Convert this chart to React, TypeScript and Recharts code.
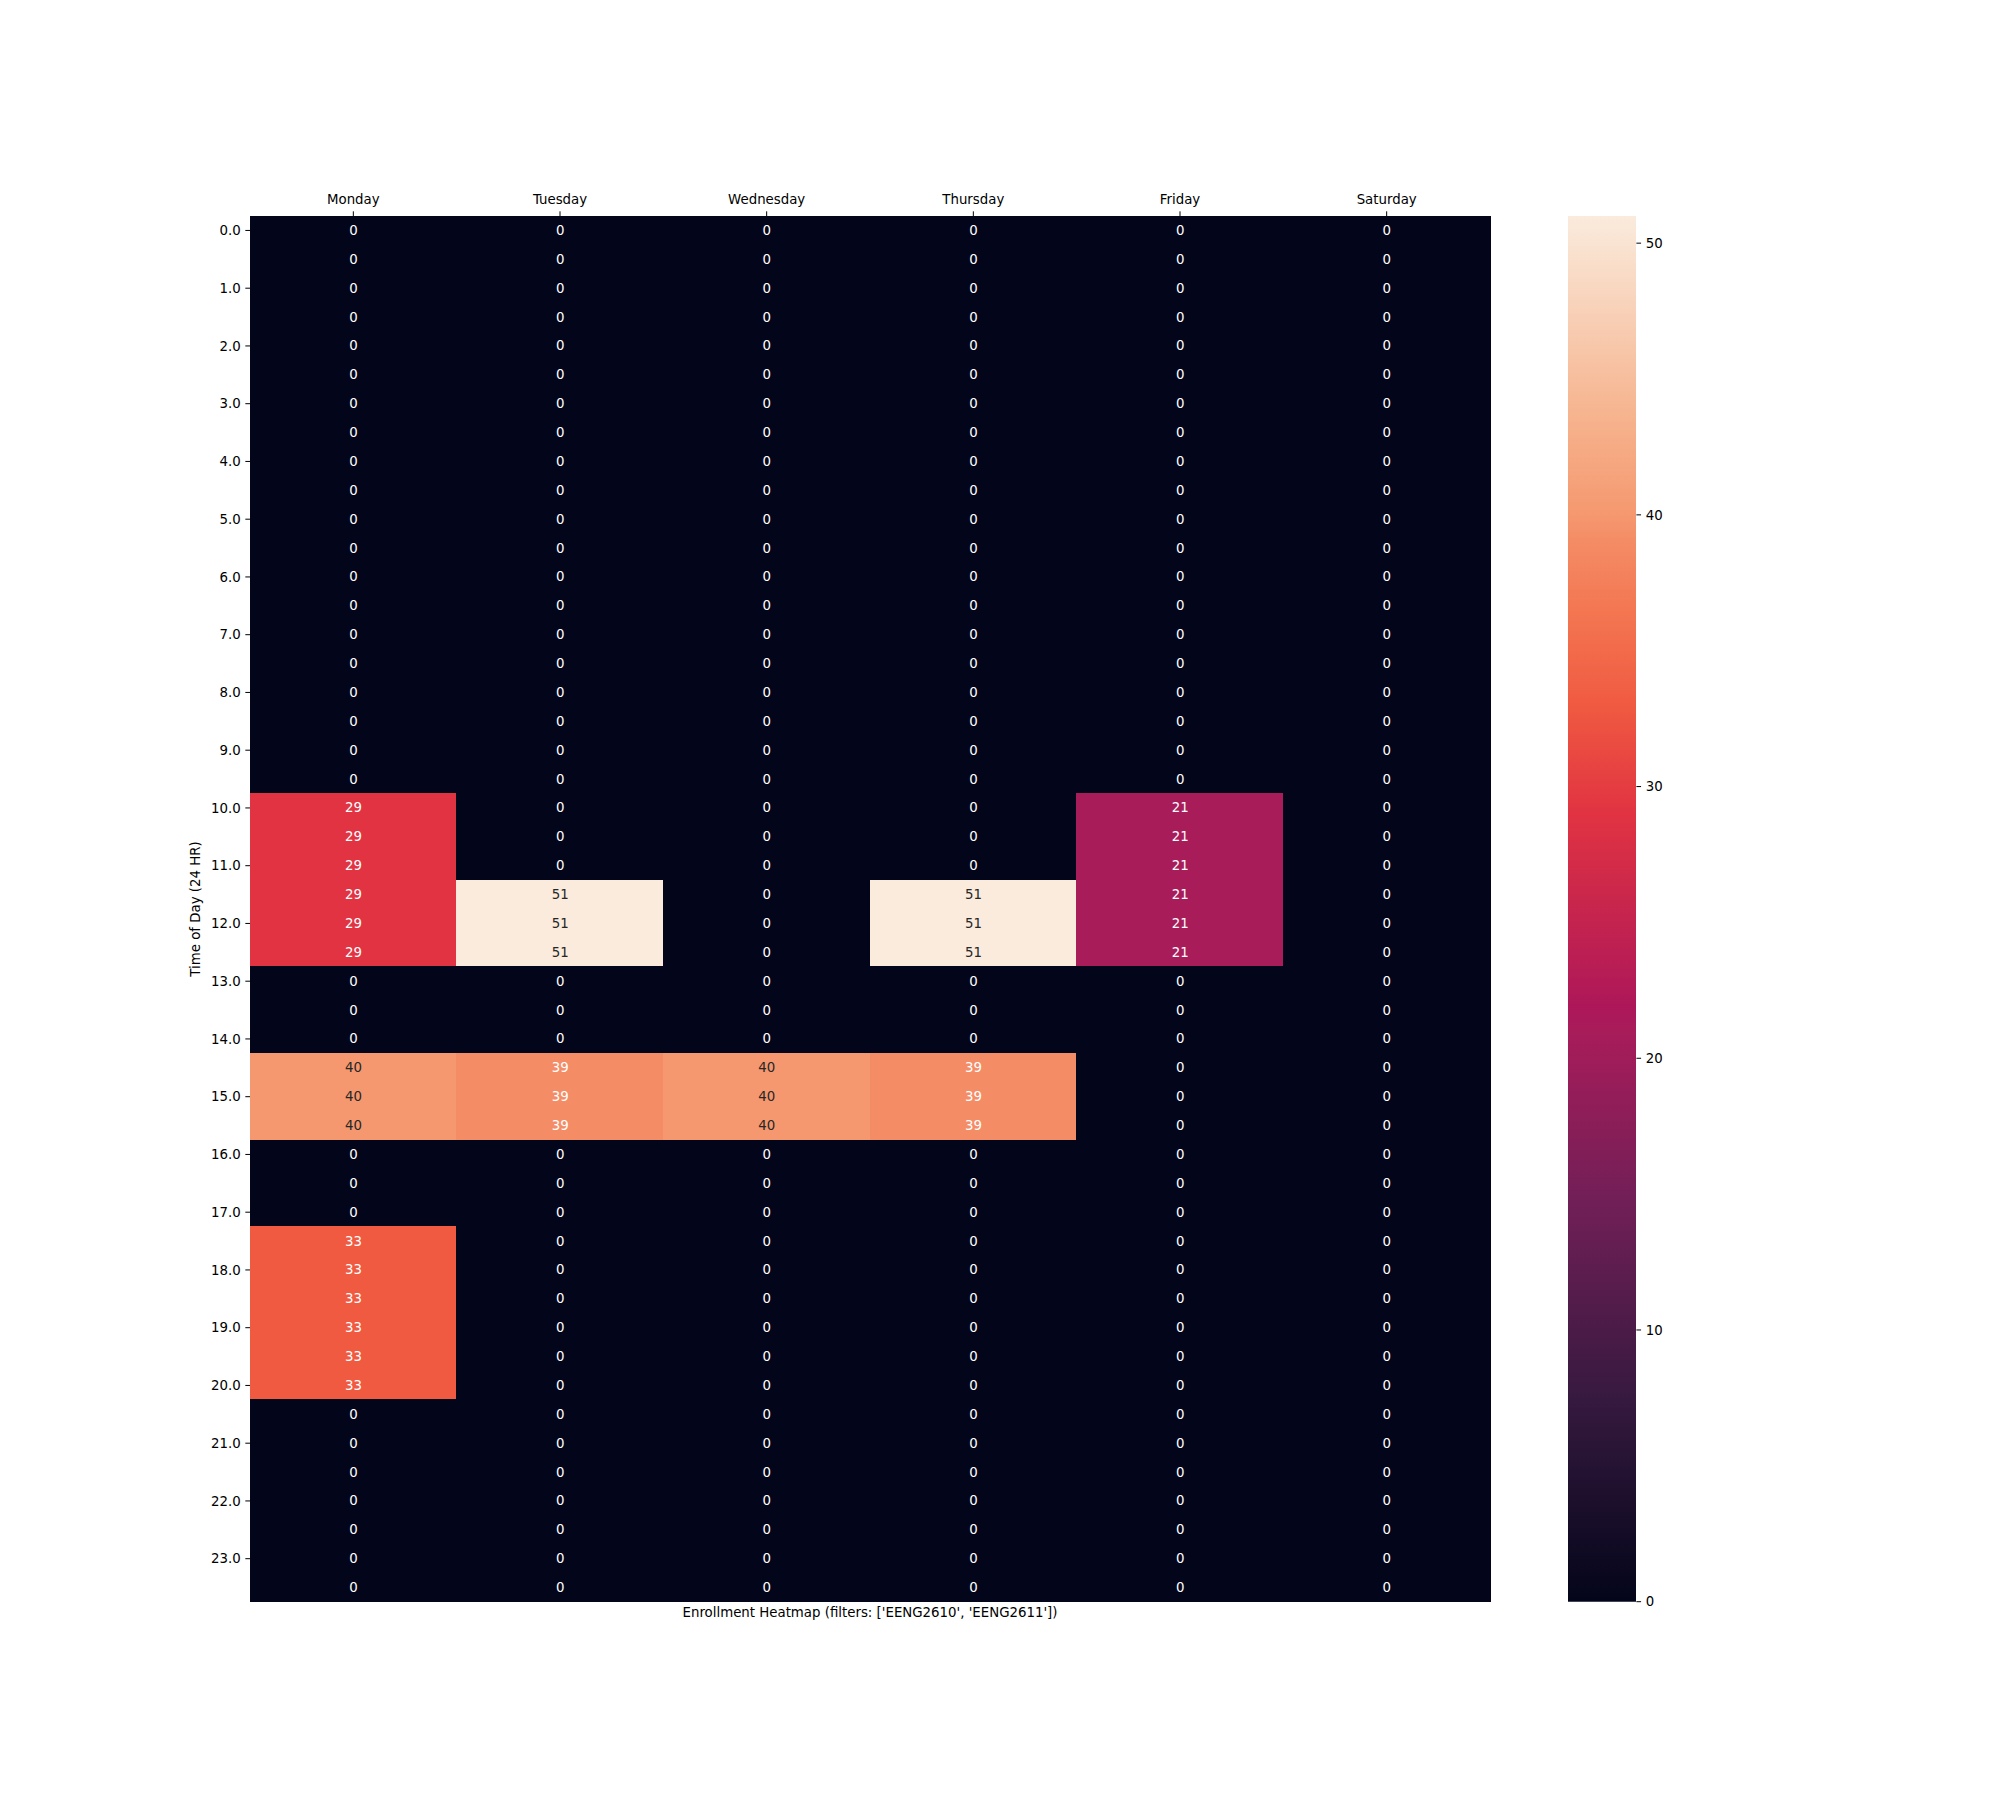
import React from 'react';
import { BarChart, Bar, XAxis, YAxis, Cell, LabelList, Label } from 'recharts';

const days = ['Monday', 'Tuesday', 'Wednesday', 'Thursday', 'Friday', 'Saturday'];

const timeLabels = ['0.0', '1.0', '2.0', '3.0', '4.0', '5.0', '6.0', '7.0', '8.0', '9.0', '10.0', '11.0',
  '12.0', '13.0', '14.0', '15.0', '16.0', '17.0', '18.0', '19.0', '20.0', '21.0', '22.0', '23.0'];

const mondayValues = [0, 0, 0, 0, 0, 0, 0, 0, 0, 0, 0, 0, 0, 0, 0, 0, 0, 0, 0, 0,
  29, 29, 29, 29, 29, 29, 0, 0, 0, 40, 40, 40, 0, 0, 0, 33, 33, 33, 33, 33, 33,
  0, 0, 0, 0, 0, 0, 0];
const tuesdayValues = [0, 0, 0, 0, 0, 0, 0, 0, 0, 0, 0, 0, 0, 0, 0, 0, 0, 0, 0, 0,
  0, 0, 0, 51, 51, 51, 0, 0, 0, 39, 39, 39, 0, 0, 0, 0, 0, 0, 0, 0, 0,
  0, 0, 0, 0, 0, 0, 0];
const wednesdayValues = [0, 0, 0, 0, 0, 0, 0, 0, 0, 0, 0, 0, 0, 0, 0, 0, 0, 0, 0, 0,
  0, 0, 0, 0, 0, 0, 0, 0, 0, 40, 40, 40, 0, 0, 0, 0, 0, 0, 0, 0, 0,
  0, 0, 0, 0, 0, 0, 0];
const thursdayValues = [0, 0, 0, 0, 0, 0, 0, 0, 0, 0, 0, 0, 0, 0, 0, 0, 0, 0, 0, 0,
  0, 0, 0, 51, 51, 51, 0, 0, 0, 39, 39, 39, 0, 0, 0, 0, 0, 0, 0, 0, 0,
  0, 0, 0, 0, 0, 0, 0];
const fridayValues = [0, 0, 0, 0, 0, 0, 0, 0, 0, 0, 0, 0, 0, 0, 0, 0, 0, 0, 0, 0,
  21, 21, 21, 21, 21, 21, 0, 0, 0, 0, 0, 0, 0, 0, 0, 0, 0, 0, 0, 0, 0,
  0, 0, 0, 0, 0, 0, 0];
const saturdayValues = [0, 0, 0, 0, 0, 0, 0, 0, 0, 0, 0, 0, 0, 0, 0, 0, 0, 0, 0, 0,
  0, 0, 0, 0, 0, 0, 0, 0, 0, 0, 0, 0, 0, 0, 0, 0, 0, 0, 0, 0, 0,
  0, 0, 0, 0, 0, 0, 0];

const dayValues = [mondayValues, tuesdayValues, wednesdayValues, thursdayValues, fridayValues, saturdayValues];

const colorbarTicks = [0, 10, 20, 30, 40, 50];
const VMAX = 51;

const rocketStops: [number, string][] = [
  [0, '#03051A'],
  [0.143, '#35193E'],
  [0.286, '#701F57'],
  [0.412, '#A81C5A'],
  [0.429, '#AD1759'],
  [0.569, '#E13342'],
  [0.647, '#F05A41'],
  [0.714, '#F37651'],
  [0.765, '#F48C66'],
  [0.784, '#F5986F'],
  [0.857, '#F6B48F'],
  [1, '#FAEBDD'],
];

function hexToRgb(h: string) {
  const n = parseInt(h.slice(1), 16);
  return [(n >> 16) & 255, (n >> 8) & 255, n & 255];
}

function rocketRgb(v: number): number[] {
  const t = Math.max(0, Math.min(1, v / VMAX));
  for (let i = 0; i < rocketStops.length - 1; i++) {
    const [t0, c0] = rocketStops[i];
    const [t1, c1] = rocketStops[i + 1];
    if (t >= t0 && t <= t1) {
      const f = (t - t0) / (t1 - t0);
      const a = hexToRgb(c0);
      const b = hexToRgb(c1);
      return a.map((x, k) => Math.round(x + (b[k] - x) * f));
    }
  }
  return hexToRgb(rocketStops[rocketStops.length - 1][1]);
}

function rocket(v: number) {
  const r = rocketRgb(v);
  return `rgb(${r[0]},${r[1]},${r[2]})`;
}

function textColor(v: number) {
  const rgb = rocketRgb(v);
  const lin = rgb.map((c) => {
    const s = c / 255;
    return s <= 0.03928 ? s / 12.92 : Math.pow((s + 0.055) / 1.055, 2.4);
  });
  const lum = 0.2126 * lin[0] + 0.7152 * lin[1] + 0.0722 * lin[2];
  return lum > 0.408 ? '#262626' : '#FFFFFF';
}

const rowCount = mondayValues.length;
const rowIdx = mondayValues.map((_, i) => i);

const tableData = days.map((day, j) => {
  const o: Record<string, any> = { day };
  rowIdx.forEach((i) => {
    o[`r${i}`] = 1;
    o[`v${i}`] = dayValues[j][i];
  });
  return o;
});

const yTicks = timeLabels.map((_, i) => i * 2 + 0.5);

const FONT = 'DejaVu Sans';
const FS = 13.33;
const TICK = 4.67;

const colorbarData = [{ name: 'cb', v: VMAX }];

export default function App() {
  return (
    <div style={{ position: 'absolute', left: 0, top: 0, width: 2000, height: 1800, background: '#fff', fontFamily: FONT }}>
      <div style={{ position: 'absolute', left: 0, top: 0 }}>
        <BarChart
          width={2000}
          height={1800}
          data={tableData}
          margin={{ top: 186, right: 510, bottom: 198, left: 150 }}
          barCategoryGap={0}
          barGap={0}
        >
          <XAxis
            dataKey="day"
            type="category"
            orientation="top"
            height={30}
            axisLine={false}
            tickLine={{ stroke: '#000', strokeWidth: 1 }}
            tickSize={TICK}
            tickMargin={7.5}
            interval={0}
            tick={{ fill: '#000', fontSize: FS, fontFamily: FONT }}
          />
          <YAxis
            type="number"
            domain={[0, rowCount]}
            reversed
            ticks={yTicks}
            interval={0}
            width={100}
            axisLine={false}
            tickLine={{ stroke: '#000', strokeWidth: 1 }}
            tickSize={TICK}
            tickMargin={TICK}
            tickFormatter={(v: number) => timeLabels[Math.round((v - 0.5) / 2)]}
            tick={{ fill: '#000', fontSize: FS, fontFamily: FONT }}
            allowDataOverflow
          >
            <Label
              content={(p: any) => {
                const vb = p.viewBox || {};
                const cx = (vb.x ?? 150) + 45;
                const cy = (vb.y ?? 216) + (vb.height ?? 1386) / 2;
                return (
                  <text
                    x={cx}
                    y={cy}
                    transform={`rotate(-90 ${cx} ${cy})`}
                    textAnchor="middle"
                    dominantBaseline="central"
                    fontSize={FS}
                    fontFamily={FONT}
                    fill="#000"
                  >
                    Time of Day (24 HR)
                  </text>
                );
              }}
            />
          </YAxis>
          {rowIdx.map((i) => (
            <Bar key={i} dataKey={`r${i}`} stackId="heat" isAnimationActive={false}>
              {days.map((d, j) => (
                <Cell
                  key={d}
                  fill={rocket(dayValues[j][i])}
                  stroke={rocket(dayValues[j][i])}
                  strokeWidth={1}
                  shapeRendering="crispEdges"
                />
              ))}
              <LabelList
                dataKey={`v${i}`}
                content={(p: any) => {
                  const val = Number(p.value);
                  return (
                    <text
                      x={Number(p.x) + Number(p.width) / 2}
                      y={Number(p.y) + Number(p.height) / 2}
                      textAnchor="middle"
                      dominantBaseline="central"
                      fontSize={FS}
                      fontFamily={FONT}
                      fill={textColor(val)}
                    >
                      {val}
                    </text>
                  );
                }}
              />
            </Bar>
          ))}
        </BarChart>
      </div>
      <div style={{ position: 'absolute', left: 1568.3, top: 206, width: 140, height: 1405.7 }}>
        <BarChart
          width={140}
          height={1405.7}
          data={colorbarData}
          margin={{ top: 10, right: 0, bottom: 10, left: 0 }}
          barCategoryGap={0}
        >
          <defs>
            <linearGradient id="rocketCb" x1="0" y1="1" x2="0" y2="0">
              {rocketStops.map(([t, c]) => (
                <stop key={t} offset={`${t * 100}%`} stopColor={c} />
              ))}
            </linearGradient>
          </defs>
          <XAxis dataKey="name" hide />
          <YAxis
            type="number"
            orientation="right"
            domain={[0, VMAX]}
            ticks={colorbarTicks}
            interval={0}
            width={71.6}
            axisLine={false}
            tickLine={{ stroke: '#000', strokeWidth: 1 }}
            tickSize={TICK}
            tickMargin={TICK}
            tick={{ fill: '#000', fontSize: FS, fontFamily: FONT, textAnchor: 'start' }}
          />
          <Bar dataKey="v" fill="url(#rocketCb)" isAnimationActive={false} />
        </BarChart>
      </div>
      <div
        style={{
          position: 'absolute',
          left: 470,
          width: 800,
          top: 1604,
          textAlign: 'center',
          fontSize: FS,
          fontFamily: FONT,
          color: '#000',
          lineHeight: '17px',
        }}
      >
        Enrollment Heatmap (filters: ['EENG2610', 'EENG2611'])
      </div>
    </div>
  );
}
